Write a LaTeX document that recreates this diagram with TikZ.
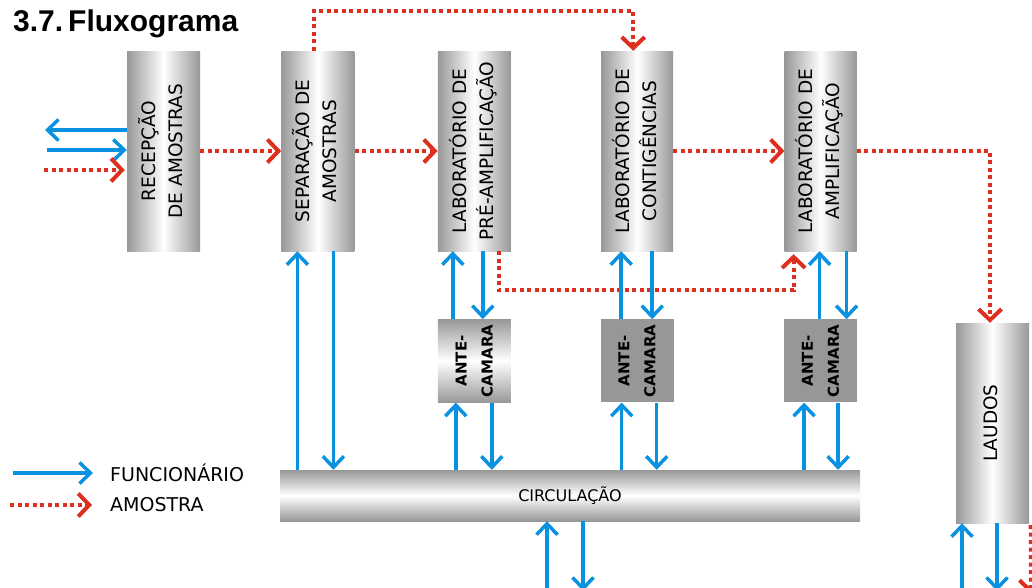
\documentclass[tikz,border=0pt]{standalone}
\usepackage{fontspec}
\setmainfont{DejaVu Sans}
\newfontfamily\titlefont{Liberation Sans}
\usetikzlibrary{arrows.meta, positioning}

\definecolor{flowblue}{RGB}{10,146,224}
\definecolor{flowred}{RGB}{222,46,30}
\definecolor{boxgray}{RGB}{152,152,152}
\definecolor{antegray}{RGB}{152,150,150}

\newcommand{\vlabel}[1]{\rotatebox{90}{\begin{tabular}{@{}c@{}}#1\end{tabular}}}

\begin{document}
\begin{tikzpicture}[
    x=1pt, y=-1pt,
    room/.style={
        rectangle,
        minimum width=73pt,
        minimum height=200pt,
        inner sep=0pt,
        left color=boxgray,
        right color=boxgray,
        middle color=white,
        font=\fontsize{18.5}{27}\selectfont
    },
    antebox/.style={
        rectangle,
        minimum width=73pt,
        minimum height=83pt,
        inner sep=0pt,
        fill=antegray,
        font=\bfseries\fontsize{15}{26}\selectfont
    },
    hall/.style={
        rectangle,
        minimum width=580pt,
        minimum height=51pt,
        inner sep=0pt,
        top color=boxgray,
        bottom color=boxgray,
        middle color=white,
        font=\fontsize{16}{18}\selectfont
    },
    func/.style={
        draw=flowblue,
        line width=3.5pt,
        -{Straight Barb[length=11pt,width=21pt]}
    },
    sample/.style={
        draw=flowred,
        line width=4pt,
        dash pattern=on 4pt off 3.5pt,
        -{Straight Barb[length=11pt,width=23pt]}
    },
    legend/.style={
        anchor=west,
        inner sep=0pt,
        font=\fontsize{19}{22}\selectfont
    }
]
\useasboundingbox (0,0) rectangle (1032,587);
\clip (0,0) rectangle (1032,587);

% Title
\node[anchor=north west, inner sep=0pt, font=\titlefont\bfseries\fontsize{30}{30}\selectfont] (title) at (13,10) {3.7.\,Fluxograma};

% Rooms
\node[room] (rec) at (163.5,151) {\vlabel{RECEPÇÃO\\DE AMOSTRAS}};
\node[room, right=81pt of rec] (sep) {\vlabel{SEPARAÇÃO DE\\AMOSTRAS}};
\node[room, right=83pt of sep] (pre) {\vlabel{LABORATÓRIO DE\\PRÉ-AMPLIFICAÇÃO}};
\node[room, minimum width=72pt, right=90pt of pre] (con) {\vlabel{LABORATÓRIO DE\\CONTIGÊNCIAS}};
\node[room, minimum width=72pt, right=111pt of con] (amp) {\vlabel{LABORATÓRIO DE\\AMPLIFICAÇÃO}};
\node[room] (laudos) at (992.5,423) {\vlabel{LAUDOS}};

% Ante-camaras
\node[antebox, top color=boxgray, bottom color=boxgray, middle color=white, below=68pt of pre] (ante1) {\vlabel{ANTE-\\CAMARA}};
\node[antebox, below=68pt of con] (ante2) {\vlabel{ANTE-\\CAMARA}};
\node[antebox, below=68pt of amp] (ante3) {\vlabel{ANTE-\\CAMARA}};

% Circulation
\node[hall] (circ) at (570,495.5) {CIRCULAÇÃO};

% Free ends
\coordinate (in1) at (45,130);
\coordinate (in2) at (47,150);
\coordinate (in3) at (44,170);
\coordinate (cin) at (547,600);
\coordinate (cout) at (583,591);
\coordinate (lin) at (962,600);
\coordinate (lout) at (997,591);
\coordinate (rout) at (1031,594);

% Entrance
\draw[func] (rec.west |- in1) -- (in1);
\draw[func] (in2) -- (rec.west |- in2);
\draw[sample] (in3) -- ([xshift=-2pt]rec.west |- in3);

% Sample path
\draw[sample] (rec.east |- sep.west) -- (sep.west);
\draw[sample] ([xshift=-3.5pt]sep.north) -- ++(0,-40) -| ([xshift=-4pt]con.north);
\draw[sample] (sep.east) -- (pre.west);
\draw[sample] (con.east) -- (amp.west);
\draw[sample] ([xshift=24.5pt]pre.south) -- ++(0,39) -| ([xshift=-27pt,yshift=-3pt]amp.south);
\draw[sample] (amp.east) -| ([xshift=-2.5pt]laudos.north);
\draw[sample] ([xshift=1.5pt,yshift=-2pt]laudos.south east) -- (rout);

% Staff path
\foreach \roomA/\roomB/\upx/\dnx in {sep/circ/-20.5/15.5, pre/ante1/-21.5/8.5, ante1/circ/-18.5/17.5, con/ante2/-16/15, ante2/circ/-15.5/19.5, amp/ante3/-1/26, ante3/circ/-16.5/17.5} {
    \draw[func] ([xshift=\upx pt]\roomA.south |- \roomB.north) -- ([xshift=\upx pt]\roomA.south);
    \draw[func] ([xshift=\dnx pt]\roomA.south) -- ([xshift=\dnx pt]\roomA.south |- \roomB.north);
}
\draw[func] (cin) -- (cin |- circ.south);
\draw[func] (circ.south -| cout) -- (cout);
\draw[func] (lin) -- (lin |- laudos.south);
\draw[func] (laudos.south -| lout) -- (lout);

% Legend
\node[legend] (legf) at (110,473) {FUNCIONÁRIO};
\node[legend] (lega) at (110,505) {AMOSTRA};
\draw[func] ([xshift=-97pt]legf.west) -- ([xshift=-17pt]legf.west);
\draw[sample] ([xshift=-100pt]lega.west) -- ([xshift=-18pt]lega.west);

\end{tikzpicture}
\end{document}
